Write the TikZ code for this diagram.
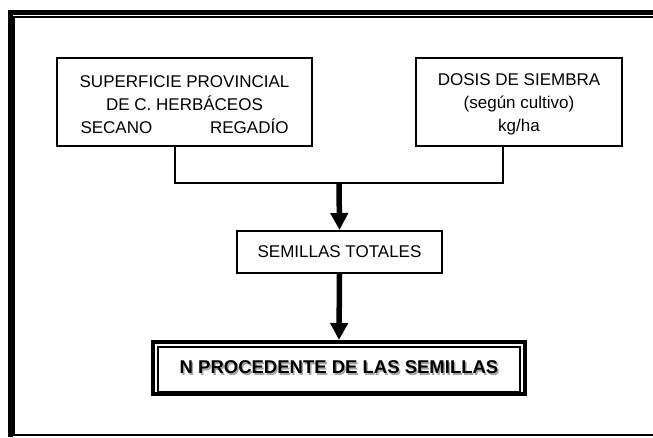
\documentclass[tikz,border=0pt]{standalone}
\usepackage{fontspec}
\setmainfont{Liberation Sans}
\usetikzlibrary{positioning}
\usetikzlibrary{arrows.meta}

\begin{document}
\begin{tikzpicture}[x=1pt, y=-1pt,
  caja/.style={draw, line width=2pt, inner sep=0pt, align=center,
    font=\fontsize{17}{23}\selectfont},
  flecha/.style={line width=5.5pt, -{Triangle[width=17pt,length=17pt]}},
  union/.style={line width=2pt}]

\useasboundingbox (0,0) rectangle (653,437);

%frame
{
\draw[line width=4.7pt] (653,12.5)--(10.3,12.5)--(10.3,437);
\draw[line width=1.7pt] (653,17.2)--(14.2,17.2)--(14.2,435)--(653,435);
}

% boxes
{
\node[caja, minimum width=255pt, minimum height=88pt] (superficie) at (184.5,102)
{\rule{0pt}{17pt}SUPERFICIE PROVINCIAL\\DE C. HERBÁCEOS\\\makebox[208pt]{SECANO\hfill REGADÍO}};

\node[caja, minimum width=206pt, minimum height=88pt] (dosis) at (519,102)
{\rule{0pt}{17pt}DOSIS DE SIEMBRA\\(según cultivo)\\kg/ha};

\node[caja, minimum width=205pt, minimum height=42pt] (semillas) at (339.5,252)
{SEMILLAS TOTALES};

\node[caja, line width=4pt, minimum width=372pt, minimum height=52pt,
  font=\fontsize{18.5}{23}\selectfont\bfseries] (nsemillas) at (339,368)
{\rlap{\hspace{1.5pt}\raisebox{-1.5pt}{\color{gray!70}N PROCEDENTE DE LAS SEMILLAS}}N PROCEDENTE DE LAS SEMILLAS};
\draw[line width=2pt] ([shift={(7pt,-7pt)}]nsemillas.north west) rectangle ([shift={(-7pt,4pt)}]nsemillas.south east);
}

% connectors
\coordinate (cruce) at (339,183);
\draw[union] ([xshift=-9.5pt]superficie.south) |- (cruce) -| ([xshift=-16pt]dosis.south);

\draw[flecha] (cruce) -- (semillas.north);
\draw[flecha] (semillas.south) -- (nsemillas.north);

\end{tikzpicture}
\end{document}
